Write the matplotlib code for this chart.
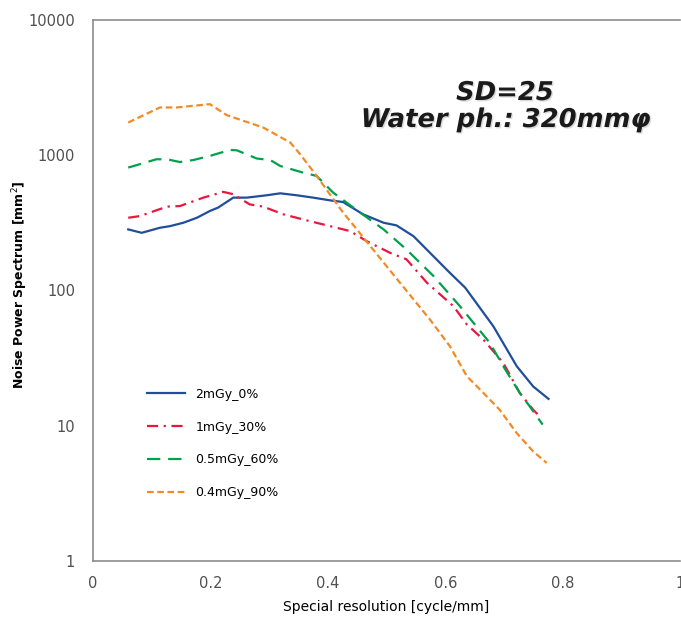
import numpy as np
import matplotlib.pyplot as plt
import matplotlib.patheffects as pe

# values (x in cycle/mm, y in mm^2)
x_blue = [0.060, 0.083, 0.114, 0.131, 0.154, 0.177, 0.199, 0.213, 0.239, 0.262, 0.296,
          0.319, 0.347, 0.375, 0.404, 0.426, 0.460, 0.495, 0.517, 0.546, 0.580, 0.608,
          0.634, 0.682, 0.722, 0.750, 0.776]
y_blue = [283, 267, 291, 299, 317, 345, 387, 410, 486, 486, 506,
          523, 506, 486, 464, 451, 366, 317, 303, 252, 179, 135,
          105, 54.4, 27.5, 19.5, 15.8]

x_red = [0.060, 0.080, 0.126, 0.148, 0.188, 0.222, 0.239, 0.267, 0.290, 0.324, 0.364,
         0.404, 0.438, 0.466, 0.506, 0.534, 0.569, 0.614, 0.637, 0.665, 0.699, 0.727,
         0.750, 0.764]
y_red = [345, 355, 417, 421, 486, 536, 515, 433, 417, 366, 330,
         299, 275, 232, 190, 170, 114, 76.6, 56, 43.4, 29.1, 17.5,
         13.1, 11.4]

x_green = [0.060, 0.074, 0.108, 0.126, 0.148, 0.171, 0.199, 0.233, 0.245, 0.279, 0.302,
           0.319, 0.358, 0.381, 0.409, 0.455, 0.495, 0.534, 0.580, 0.625, 0.676, 0.699,
           0.727, 0.744, 0.766]
y_green = [811, 844, 934, 934, 891, 922, 988, 1094, 1088, 946, 922,
           833, 744, 703, 530, 377, 283, 201, 128, 76.6, 41, 27.5,
           17.5, 13.9, 10.2]

x_orange = [0.060, 0.114, 0.143, 0.199, 0.228, 0.290, 0.336, 0.353, 0.381, 0.426, 0.438,
            0.523, 0.574, 0.608, 0.637, 0.665, 0.693, 0.722, 0.750, 0.773]
y_orange = [1746, 2256, 2256, 2387, 1978, 1603, 1242, 1017, 703, 377, 326,
            114, 61, 38.7, 23.2, 17.5, 13.1, 8.8, 6.45, 5.3]

labels = ['2mGy_0%', '1mGy_30%', '0.5mGy_60%', '0.4mGy_90%']

fig = plt.figure(figsize=(6.81, 6.17), dpi=100)
ax = fig.add_axes([93/681, 56/617, 587/681, 541/617])

lw = 1.6
ax.plot(x_blue, y_blue, color='#1f4e9c', lw=lw, label=labels[0])
ax.plot(x_red, y_red, color='#e8173f', lw=lw, linestyle=(0, (5, 2.5, 1, 2.5)), label=labels[1])
ax.plot(x_green, y_green, color='#00a14b', lw=lw, linestyle=(0, (6, 3.5)), label=labels[2])
ax.plot(x_orange, y_orange, color='#f28a26', lw=lw, linestyle=(0, (3, 1.6)), label=labels[3])

ax.set_yscale('log')
ax.set_ylim(1, 10000)
ax.set_xlim(0, 1)
ax.set_xticks([0, 0.2, 0.4, 0.6, 0.8, 1])
ax.set_xticklabels(['0', '0.2', '0.4', '0.6', '0.8', '1'])
ax.set_yticks([1, 10, 100, 1000, 10000])
ax.set_yticklabels(['1', '10', '100', '1000', '10000'])
ax.minorticks_off()
ax.tick_params(length=0, labelsize=10.5, labelcolor='#505050')
ax.tick_params(axis='y', pad=13)
ax.tick_params(axis='x', pad=11)

for s in ax.spines.values():
    s.set_color('#8c8c8c')
    s.set_linewidth(1.2)
ax.spines['right'].set_visible(False)

ax.set_xlabel('Special resolution [cycle/mm]', fontsize=10, labelpad=6)
ax.set_ylabel('Noise Power Spectrum [mm$^2$]', fontsize=9, fontweight='bold')
ax.yaxis.set_label_coords(-0.107, 0.51)

leg = ax.legend(loc='upper left', bbox_to_anchor=(0.073, 0.341), frameon=False,
                fontsize=9, handlelength=3.05, labelspacing=1.58, handletextpad=0.8)

# soft drop shadow like the original text box
shadow = [pe.SimplePatchShadow(offset=(1, -1), shadow_rgbFace='#999999', alpha=0.35),
          pe.Normal()]
txt_kw = dict(fontsize=18.6, fontweight='bold', fontstyle='italic', ha='center', va='center',
              color='#1a1a1a', transform=fig.transFigure, path_effects=shadow)
fig.text(505/681, 1 - 93/617, 'SD=25', **txt_kw)
fig.text(506/681, 1 - 120/617, 'Water ph.: 320mm\u03c6', **txt_kw)

fig.savefig('out.png', dpi=100)
